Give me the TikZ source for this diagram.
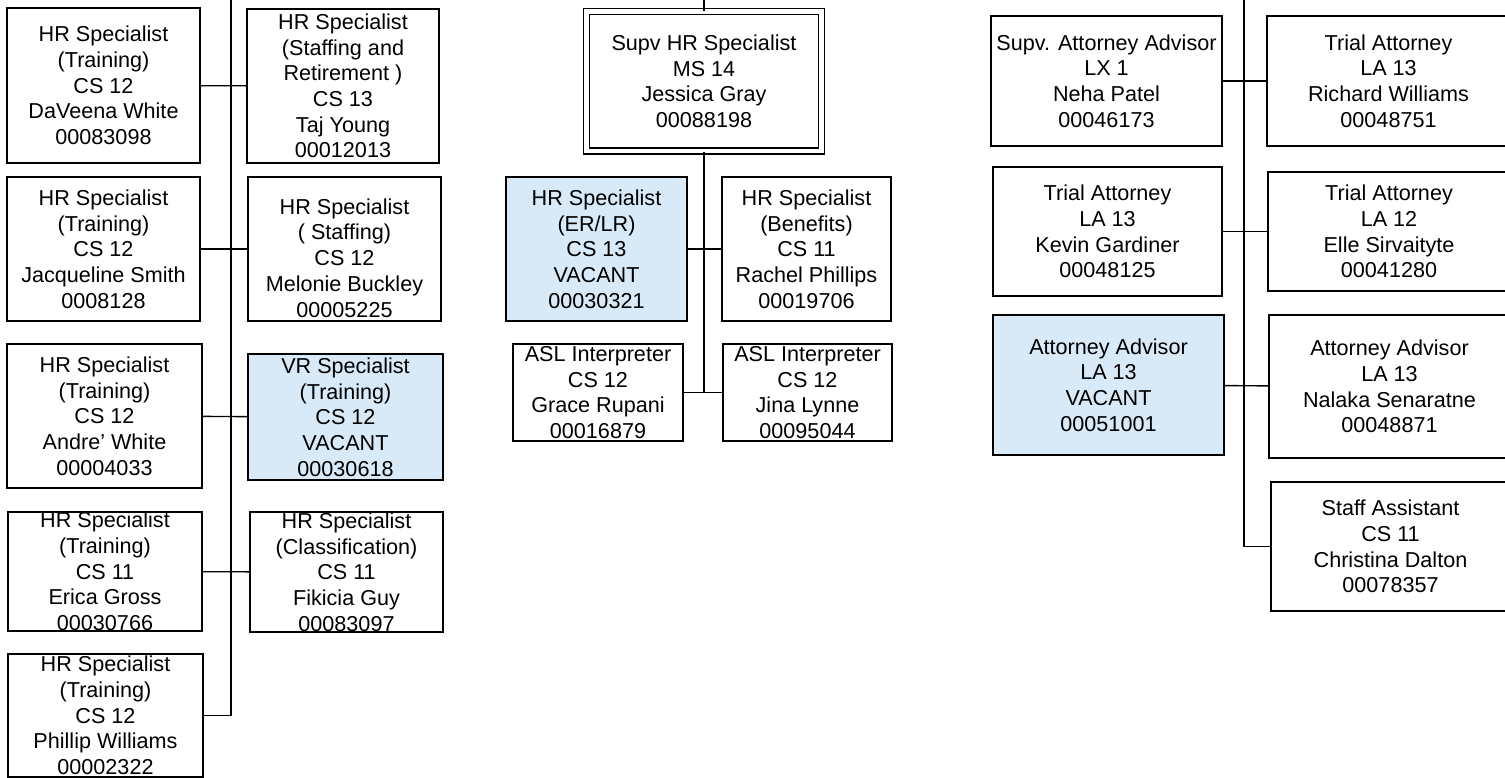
\documentclass[tikz,border=0pt]{standalone}
\usepackage{fontspec}
\setmainfont{Liberation Sans}
\usepackage{tikz}

\definecolor{vacantblue}{RGB}{216,233,248}

\begin{document}
\begin{tikzpicture}[x=0.5pt, y=-0.5pt,
    every node/.style={font=\fontsize{10.8}{12.85}\selectfont},
    post/.style={draw, line width=0.8pt, align=center, inner sep=0pt},
    vacant/.style={post, fill=vacantblue},
    chief/.style={draw, double, double distance=2.3pt, line width=0.7pt, align=center, inner sep=0pt},
    dims/.style 2 args={minimum width=#1*0.5pt, minimum height=#2*0.5pt},
    link/.style={line width=0.7pt}]
  \clip (0,0) rectangle (1505,777);
  \fill[white] (0,0) rectangle (1505,777);

  % training and staffing team
  \node[post, dims={193}{155}] (dwhite) at (103.5,85.5) {HR Specialist\\(Training)\\CS 12\\DaVeena White\\00083098};
  \node[post, dims={192}{154}] (tyoung) at (343,86) {HR Specialist\\(Staffing and\\Retirement )\\CS 13\\Taj Young\\00012013};
  \node[post, dims={193}{144}] (jsmith) at (103.5,249) {HR Specialist\\(Training)\\CS 12\\Jacqueline Smith\\0008128};
  \node[post, dims={193}{144}] (mbuckley) at (344.5,249) {\raisebox{-8.5pt}[0pt][0pt]{\begin{tabular}{@{}c@{}}HR Specialist\\( Staffing)\\CS 12\\Melonie Buckley\\00005225\end{tabular}}};
  \node[post, dims={195}{144}] (awhite) at (104.5,416) {HR Specialist\\(Training)\\CS 12\\Andre’ White\\00004033};
  \node[vacant, dims={195}{126}] (vrvacant) at (345.5,417) {VR Specialist\\(Training)\\CS 12\\VACANT\\00030618};
  \node[post, dims={194}{119}] (egross) at (105,571.5) {HR Specialist\\(Training)\\CS 11\\Erica Gross\\00030766};
  \node[post, dims={193}{120}] (fguy) at (346.5,572) {HR Specialist\\(Classification)\\CS 11\\Fikicia Guy\\00083097};
  \node[post, dims={195}{123}] (pwilliams) at (105.5,715.5) {HR Specialist\\(Training)\\CS 12\\Phillip Williams\\00002322};

  \coordinate (hrtop) at (231,-5);
  \draw[link] (hrtop) |- (pwilliams);
  \draw[link] (dwhite) -- (tyoung);
  \draw[link] (jsmith) -- (mbuckley);
  \draw[link] (awhite) -- (vrvacant);
  \draw[link] (egross) -- (fguy);

  % supervisor and her team
  \node[chief, dims={234.5}{139.5}] (jgray) at (704,81.25) {Supv HR Specialist\\MS 14\\Jessica Gray\\00088198};
  \node[vacant, dims={181}{144}] (ervacant) at (596.5,249) {HR Specialist\\(ER/LR)\\CS 13\\VACANT\\00030321};
  \node[post, dims={169}{144}] (rphillips) at (806.5,249) {HR Specialist\\(Benefits)\\CS 11\\Rachel Phillips\\00019706};
  \node[post, dims={170}{97}] (grupani) at (598,392.5) {ASL Interpreter\\CS 12\\Grace Rupani\\00016879};
  \node[post, dims={169}{97}] (jlynne) at (807.5,392.5) {ASL Interpreter\\CS 12\\Jina Lynne\\00095044};

  \coordinate (midtop) at (704,-5);
  \draw[link] (midtop) -- (jgray);
  \draw[link] (jgray) -- (jgray |- grupani);
  \draw[link] (ervacant) -- (rphillips);
  \draw[link] (grupani) -- (jlynne);

  % attorneys
  \node[post, dims={231}{130}] (npatel) at (1106.5,81) {Supv. Attorney Advisor\\LX 1\\Neha Patel\\00046173};
  \node[post, dims={243}{130}] (rwilliams) at (1388.5,81) {Trial Attorney\\LA 13\\Richard Williams\\00048751};
  \node[post, dims={229}{129}] (kgardiner) at (1107.5,231.5) {Trial Attorney\\LA 13\\Kevin Gardiner\\00048125};
  \node[post, dims={242}{119}] (esirvaityte) at (1389,231.5) {Trial Attorney\\LA 12\\Elle Sirvaityte\\00041280};
  \node[vacant, dims={231}{140}] (aavacant) at (1108.5,385) {Attorney Advisor\\LA 13\\VACANT\\00051001};
  \node[post, dims={241}{143}] (nsenaratne) at (1389.5,386.5) {Attorney Advisor\\LA 13\\Nalaka Senaratne\\00048871};
  \node[post, dims={239}{129}] (cdalton) at (1390.5,546.5) {Staff Assistant\\CS 11\\Christina Dalton\\00078357};

  \coordinate (lawtop) at (1244,-5);
  \draw[link] (lawtop) |- (cdalton);
  \draw[link] (npatel) -- (rwilliams);
  \draw[link] (kgardiner) -- (esirvaityte);
  \draw[link] (aavacant) -- (nsenaratne);
\end{tikzpicture}
\end{document}
